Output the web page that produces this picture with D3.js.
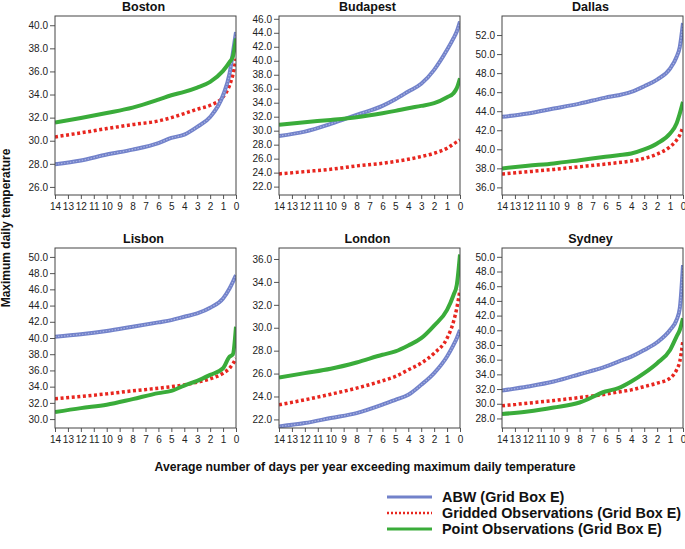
<!DOCTYPE html>
<html><head><meta charset="utf-8">
<script src="https://cdn.jsdelivr.net/npm/d3@7"></script>
<style>
body{margin:0;background:#fff;}
text{font-family:"Liberation Sans",Arial,sans-serif;}
</style></head>
<body><svg id="c" width="685" height="549"></svg>
<script>
const days = [14,12,10,8,6,5,4,3,2,1,0.5,0.25,0];
const xTicks = [14,13,12,11,10,9,8,7,6,5,4,3,2,1,0];
const cities = ["Boston","Budapest","Dallas","Lisbon","London","Sydney"];
const seriesNames = ["ABW (Grid Box E)","Gridded Observations (Grid Box E)","Point Observations (Grid Box E)"];

const bostonABW   = [27.96,28.28,28.8,29.23,29.8,30.24,30.53,31.2,32.06,33.94,35.8,37.55,39.4];
const bostonGrid  = [30.33,30.68,31.05,31.4,31.71,32.0,32.35,32.73,33.07,33.8,34.8,35.67,37.1];
const bostonPoint = [31.57,31.97,32.4,32.87,33.56,33.94,34.23,34.6,35.1,36.05,36.8,37.26,38.85];

const budapestABW   = [29.25,29.87,30.97,32.26,33.55,34.5,35.6,36.7,38.7,41.56,43.23,44.19,45.6];
const budapestGrid  = [23.82,24.15,24.48,24.96,25.34,25.6,25.91,26.3,26.77,27.49,28.1,28.4,28.68];
const budapestPoint = [30.83,31.21,31.54,31.93,32.5,32.83,33.21,33.55,33.93,34.79,35.36,36.08,37.5];

const dallasABW   = [43.41,43.76,44.28,44.8,45.43,45.68,46.03,46.62,47.32,48.47,49.7,50.74,53.26];
const dallasGrid  = [37.4,37.64,37.89,38.17,38.45,38.6,38.77,39.05,39.5,40.27,40.96,41.5,42.36];
const dallasPoint = [37.99,38.27,38.52,38.86,39.21,39.38,39.56,39.98,40.61,41.66,42.7,43.75,44.98];

const lisbonABW   = [40.16,40.45,40.86,41.39,41.93,42.21,42.62,43.03,43.73,44.88,46.1,46.9,47.75];
const lisbonGrid  = [32.5,32.79,33.11,33.48,33.81,34.0,34.22,34.55,34.96,35.66,36.27,36.8,37.5];
const lisbonPoint = [30.86,31.35,31.76,32.46,33.2,33.48,34.14,34.71,35.45,36.27,37.7,37.95,41.4];

const londonABW   = [21.39,21.68,22.12,22.55,23.28,23.71,24.15,25.02,26.04,27.49,28.5,29.09,29.81];
const londonGrid  = [23.28,23.71,24.2,24.73,25.37,25.75,26.33,26.91,27.78,29.09,30.54,31.7,33.3];
const londonPoint = [25.66,26.04,26.42,26.97,27.64,27.93,28.45,29.09,30.19,31.56,32.86,33.73,36.4];

const sydneyABW   = [31.8,32.34,33.02,34.02,35.06,35.74,36.42,37.32,38.37,40.04,41.4,42.98,48.87];
const sydneyGrid  = [29.72,30.08,30.44,30.85,31.3,31.6,31.89,32.34,32.8,33.48,34.61,35.74,38.68];
const sydneyPoint = [28.59,28.95,29.49,30.17,31.67,32.12,33.02,34.16,35.52,37.32,39.14,40.04,41.63];

const yTicksBoston   = [26,28,30,32,34,36,38,40];
const yTicksBudapest = [22,24,26,28,30,32,34,36,38,40,42,44,46];
const yTicksDallas   = [36,38,40,42,44,46,48,50,52];
const yTicksLisbon   = [30,32,34,36,38,40,42,44,46,48,50];
const yTicksLondon   = [22,24,26,28,30,32,34,36];
const yTicksSydney   = [28,30,32,34,36,38,40,42,44,46,48,50];

const panelData = {
  Boston:[bostonABW,bostonGrid,bostonPoint],
  Budapest:[budapestABW,budapestGrid,budapestPoint],
  Dallas:[dallasABW,dallasGrid,dallasPoint],
  Lisbon:[lisbonABW,lisbonGrid,lisbonPoint],
  London:[londonABW,londonGrid,londonPoint],
  Sydney:[sydneyABW,sydneyGrid,sydneyPoint]
};
const panelTicks = {Boston:yTicksBoston,Budapest:yTicksBudapest,Dallas:yTicksDallas,Lisbon:yTicksLisbon,London:yTicksLondon,Sydney:yTicksSydney};
const panelDomain = {Boston:[25.3,40.8],Budapest:[20.8,46.4],Dallas:[35.2,54.0],Lisbon:[28.9,51.1],London:[21.25,36.96],Sydney:[26.7,51.2]};

const styles = [
  {stroke:"#7282ca", width:4, dash:null},
  {stroke:"#e8261f", width:3.5, dash:"3,2.6"},
  {stroke:"#3aac3a", width:4, dash:null}
];
const drawOrder = [1,0,2];

const svg = d3.select("#c");
const colX = [55,279,502], rowY = [16,248], pw = 181, ph = [179,180];

cities.forEach((city,i)=>{
  const col = i%3, row = Math.floor(i/3);
  const x0 = colX[col], y0 = rowY[row], h = ph[row];
  const g = svg.append("g").attr("transform",`translate(${x0},${y0})`);
  const x = d3.scaleLinear().domain([14,0]).range([0,pw]);
  const y = d3.scaleLinear().domain(panelDomain[city]).range([h,0]);
  g.append("defs").append("clipPath").attr("id","clip"+i)
    .append("rect").attr("width",pw).attr("height",h);
  const ya = g.append("g").call(d3.axisLeft(y).tickValues(panelTicks[city]).tickFormat(d3.format(".1f")).tickSize(5).tickSizeOuter(0));
  const xa = g.append("g").attr("transform",`translate(0,${h})`).call(d3.axisBottom(x).tickValues(xTicks).tickFormat(d3.format("d")).tickSize(4).tickSizeOuter(0));
  [ya,xa].forEach(a=>{
    a.select(".domain").remove();
    a.selectAll("line").attr("stroke","#555");
    a.selectAll("text").attr("fill","#222").style("font-size","10px").style("font-family","'Liberation Sans',Arial,sans-serif");
  });
  ya.selectAll("text").attr("x",-7);
  xa.selectAll("text").attr("y",8);
  const line = d3.line().x((d,k)=>x(days[k])).y(d=>y(d)).curve(d3.curveMonotoneX);
  const lg = g.append("g").attr("clip-path",`url(#clip${i})`);
  drawOrder.forEach(s=>{
    const st = styles[s];
    lg.append("path").datum(panelData[city][s]).attr("d",line)
      .attr("fill","none").attr("stroke",st.stroke).attr("stroke-width",st.width)
      .attr("stroke-dasharray",st.dash).attr("stroke-linejoin","round");
    if(s===0){
      lg.append("path").datum(panelData[city][s]).attr("d",line)
        .attr("fill","none").attr("stroke","#a9b3e3").attr("stroke-width",1.2)
        .attr("stroke-dasharray","1.5,1.5");
    }
  });
  g.append("rect").attr("width",pw).attr("height",h).attr("fill","none").attr("stroke","#444").attr("stroke-width",1);
  g.append("text").attr("x",pw/2-2).attr("y",-5).attr("text-anchor","middle")
    .style("font-size","12.5px").style("font-weight","bold").attr("fill","#111").text(city);
});

svg.append("text").attr("transform","translate(10,228) rotate(-90)").attr("text-anchor","middle")
  .style("font-size","12px").style("font-weight","bold").attr("fill","#111").text("Maximum daily temperature");
svg.append("text").attr("x",365).attr("y",471).attr("text-anchor","middle")
  .style("font-size","12.2px").style("font-weight","bold").attr("fill","#111").text("Average number of days per year exceeding maximum daily temperature");

const legY = [497,513,529];
seriesNames.forEach((n,s)=>{
  const st = styles[s];
  svg.append("line").attr("x1",387).attr("x2",432).attr("y1",legY[s]).attr("y2",legY[s])
    .attr("stroke",st.stroke).attr("stroke-width",s===1?2.5:3).attr("stroke-dasharray",s===1?"2,2":null);
  svg.append("text").attr("x",442).attr("y",legY[s]+5)
    .style("font-size","14.4px").style("font-weight","bold").attr("fill","#111").text(n);
});
</script></body></html>
